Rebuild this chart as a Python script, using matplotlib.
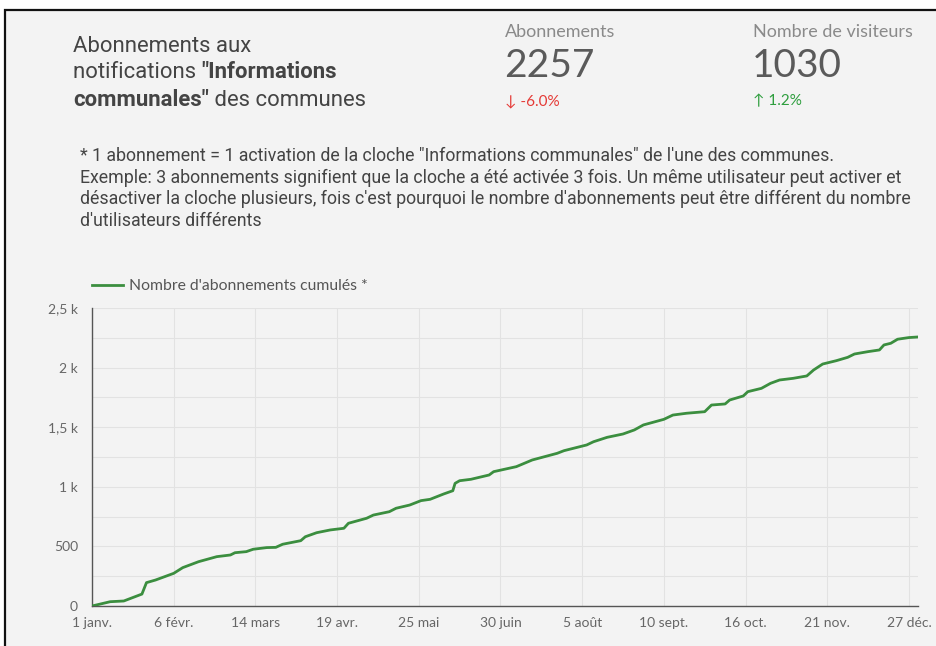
import numpy as np
import pandas as pd
import matplotlib.pyplot as plt
from matplotlib.patches import Rectangle
plt.switch_backend('agg')

# cumulative subscriptions
dates = ["2023-01-01", "2023-01-09", "2023-01-15", "2023-01-23", "2023-01-25", "2023-01-29",
         "2023-02-06", "2023-02-10", "2023-02-17", "2023-02-25", "2023-03-03", "2023-03-05",
         "2023-03-10", "2023-03-13", "2023-03-19", "2023-03-23", "2023-03-26", "2023-04-03",
         "2023-04-05", "2023-04-10", "2023-04-16", "2023-04-22", "2023-04-24", "2023-05-02",
         "2023-05-05", "2023-05-12", "2023-05-15", "2023-05-21", "2023-05-26", "2023-05-30",
         "2023-06-05", "2023-06-09", "2023-06-10", "2023-06-12", "2023-06-17", "2023-06-25",
         "2023-06-27", "2023-07-07", "2023-07-14", "2023-07-25", "2023-07-28", "2023-08-07",
         "2023-08-10", "2023-08-16", "2023-08-23", "2023-08-28", "2023-09-01", "2023-09-10",
         "2023-09-14", "2023-09-20", "2023-09-28", "2023-10-01", "2023-10-07", "2023-10-09",
         "2023-10-15", "2023-10-17", "2023-10-23", "2023-10-27", "2023-10-31", "2023-11-06",
         "2023-11-12", "2023-11-15", "2023-11-19", "2023-11-25", "2023-11-30", "2023-12-03",
         "2023-12-09", "2023-12-14", "2023-12-16", "2023-12-19", "2023-12-22", "2023-12-27",
         "2023-12-31"]
values = [0, 36, 42, 100, 196, 218,
          274, 322, 372, 414, 428, 447,
          456, 476, 490, 492, 518, 548,
          581, 615, 638, 652, 694, 736,
          763, 791, 820, 847, 884, 895,
          940, 967, 1029, 1051, 1063, 1099,
          1127, 1169, 1225, 1281, 1303, 1351,
          1378, 1415, 1443, 1477, 1519, 1566,
          1602, 1617, 1630, 1686, 1695, 1728,
          1762, 1798, 1826, 1868, 1896, 1910,
          1930, 1980, 2030, 2058, 2086, 2114,
          2134, 2148, 2190, 2204, 2238, 2252,
          2257]

tick_dates = ["2023-01-01", "2023-02-06", "2023-03-14", "2023-04-19", "2023-05-25", "2023-06-30",
              "2023-08-05", "2023-09-10", "2023-10-16", "2023-11-21", "2023-12-27"]
tick_labels = ["1 janv.", "6 févr.", "14 mars", "19 avr.", "25 mai", "30 juin",
               "5 août", "10 sept.", "16 oct.", "21 nov.", "27 déc."]
y_ticks = [0, 500, 1000, 1500, 2000, 2500]
y_labels = ["0", "500", "1 k", "1,5 k", "2 k", "2,5 k"]

kpi_names = ["Abonnements", "Nombre de visiteurs"]
kpi_values = ["2257", "1030"]
kpi_changes = ["\u2193 -6.0%", "\u2191 1.2%"]

dates = pd.to_datetime(dates)
tick_dates = pd.to_datetime(tick_dates)

bg_col = "#f3f3f3"
txt_col = "#444444"
green = "#3b8e3f"

fig = plt.figure(figsize=(9.36, 6.46), dpi=100)
fig.patch.set_facecolor("white")

# background overlay in pixel coordinates
bg = fig.add_axes([0, 0, 1, 1])
bg.set_xlim(0, 936)
bg.set_ylim(646, 0)
bg.axis("off")
bg.add_patch(Rectangle((5, 10), 940, 650, facecolor=bg_col, edgecolor="#111111", lw=1.6))

# title with bold part
tfs = 15.9
t1 = bg.text(73, 46, "Abonnements aux", fontsize=tfs, family="Roboto", color=txt_col, va="center")
t2 = bg.text(73, 73, "notifications ", fontsize=tfs, family="Roboto", color=txt_col, va="center")
bg.annotate('"Informations', xy=(1, 0), xycoords=t2, va="bottom", fontsize=tfs,
            family="Roboto", weight="bold", color=txt_col)
t3 = bg.text(73, 100, 'communales"', fontsize=tfs, family="Roboto", weight="bold",
             color=txt_col, va="center")
bg.annotate(" des communes", xy=(1, 0), xycoords=t3, va="bottom", fontsize=tfs,
            family="Roboto", color=txt_col)

# KPIs
kpi_x = [505, 753]
chg_cols = ["#e53935", "#2e9e3e"]
for i in range(2):
    bg.text(kpi_x[i], 32, kpi_names[i], fontsize=13, family="Lato", color="#8a8a8a", va="center")
    bg.text(kpi_x[i] - 1, 66, kpi_values[i], fontsize=28, family="Lato", weight="normal",
            color="#5a5a5a", va="center")
    bg.text(kpi_x[i], 101, kpi_changes[i], fontsize=11, family="Lato", color=chg_cols[i], va="center")

# footnote
foot = ['* 1 abonnement = 1 activation de la cloche "Informations communales" de l\'une des communes.',
        "Exemple: 3 abonnements signifient que la cloche a été activée 3 fois. Un même utilisateur peut activer et",
        "désactiver la cloche plusieurs, fois c'est pourquoi le nombre d'abonnements peut être différent du nombre",
        "d'utilisateurs différents"]
for i, line in enumerate(foot):
    bg.text(80, 156 + i * 21.5, line, fontsize=12.8, family="Roboto", color=txt_col, va="center")

# chart
ax = fig.add_axes([92 / 936, 1 - 606 / 646, 826 / 936, 298 / 646])
ax.patch.set_alpha(0)
ax.plot(dates, values, color=green, lw=2, label="Nombre d'abonnements cumulés *", zorder=3)
ax.set_xlim(pd.Timestamp("2023-01-01"), pd.Timestamp("2023-12-31"))
ax.set_ylim(0, 2500)
ax.set_xticks(tick_dates)
ax.set_xticklabels(tick_labels)
ax.set_yticks(y_ticks)
ax.set_yticklabels(y_labels)
ax.set_yticks(np.arange(0, 2501, 250), minor=True)
ax.grid(True, which="both", axis="y", color="#e2e2e2", lw=0.8)
ax.grid(True, which="major", axis="x", color="#e2e2e2", lw=0.8)
ax.tick_params(which="both", length=0, labelsize=10, labelcolor="#666666")
ax.tick_params(axis="x", pad=8)
ax.tick_params(axis="y", pad=10)
for lab in ax.get_xticklabels() + ax.get_yticklabels():
    lab.set_family("Lato")
for s in ["top", "right"]:
    ax.spines[s].set_visible(False)
for s in ["left", "bottom"]:
    ax.spines[s].set_color("#555555")
    ax.spines[s].set_linewidth(1)

leg = ax.legend(loc="lower left", bbox_to_anchor=(0, 1.05), frameon=False,
                prop={"family": "Lato", "size": 11.3}, handlelength=1.95, borderaxespad=0,
                borderpad=0, handletextpad=0.4)
for t in leg.get_texts():
    t.set_color("#555555")

fig.savefig("out.png", dpi=100)
